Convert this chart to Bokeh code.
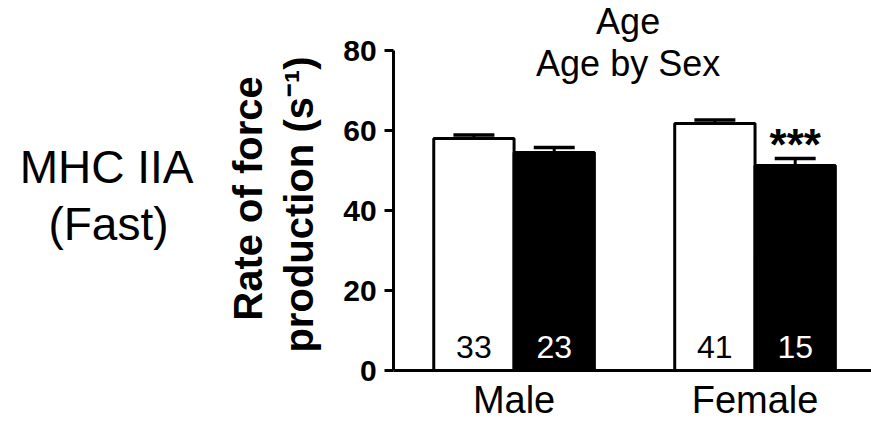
import math
from bokeh.plotting import figure
from bokeh.models import Range1d, FixedTicker
from bokeh.core.properties import value
from bokeh.embed import file_html
from bokeh.resources import INLINE

# ---- data ----
sexes = ["Male", "Female"]
ages = ["Young", "Old"]
groups = ["Male", "Male", "Female", "Female"]
age_group = ["Young", "Old", "Young", "Old"]
mean_rate = [58.0, 54.5, 61.75, 51.25]
sem_rate = [0.9, 1.25, 0.9, 1.75]
n_fibres = [33, 23, 41, 15]
significance = ["", "", "", "***"]
y_ticks = [0, 20, 40, 60, 80]
effects = ["Age", "Age by Sex"]
panel_label = ["MHC IIA", "(Fast)"]
y_label = ["Rate of force", "production (s\u207b\u00b9)"]

FONT = "Liberation Sans"
BSHIFT = 3.0  # compensation for text baseline placement (data units)

# positions derived from category indices
xs = [sexes.index(g) * 3 + ages.index(a) + 1 for g, a in zip(groups, age_group)]
fills = ["white" if a == "Young" else "black" for a in age_group]
txt_col = ["black" if a == "Young" else "white" for a in age_group]
tops = [m + s for m, s in zip(mean_rate, sem_rate)]
centers = [sexes.index(s) * 3 + 1.5 for s in sexes]

p = figure(width=871, height=423, output_backend="svg", toolbar_location=None,
           x_range=Range1d(-4.894, 5.95), y_range=Range1d(-13.25, 92.5),
           min_border_left=0, min_border_right=0, min_border_top=0,
           min_border_bottom=0)
p.outline_line_color = None
p.xgrid.visible = False
p.ygrid.visible = False
p.background_fill_color = "white"
p.border_fill_color = "white"

# bars
p.vbar(x=xs, top=mean_rate, width=1, bottom=0, fill_color=fills,
       line_color="black", line_width=3)
# error bars (upper only)
p.segment(x0=xs, y0=mean_rate, x1=xs, y1=tops, line_color="black", line_width=3)
p.segment(x0=[x - 0.255 for x in xs], y0=tops, x1=[x + 0.255 for x in xs], y1=tops,
          line_color="black", line_width=3.5)

# n labels
p.text(x=xs, y=[3 + BSHIFT] * len(xs), text=[str(n) for n in n_fibres],
       text_color=txt_col, text_align="center", text_baseline="alphabetic",
       text_font=value(FONT), text_font_size="32px")
# significance
p.text(x=xs, y=[t + BSHIFT + 0.5 for t in tops], text=significance, text_color="black",
       text_align="center", text_baseline="alphabetic", text_font=value(FONT),
       text_font_size="44px", text_font_style="bold")
# effect labels
p.text(x=[2.92, 2.92], y=[84.25 + BSHIFT, 73.75 + BSHIFT], text=effects,
       text_align="center", text_baseline="alphabetic", text_font=value(FONT),
       text_font_size="36px", text_color="black")
# panel label
p.text(x=[-3.574, -3.55], y=[51.0, 36.6], text=panel_label,
       text_align="center", text_baseline="alphabetic", text_font=value(FONT),
       text_font_size="46px", text_color="black")
# y-axis title (two rotated lines)
p.text(x=[-1.81, -1.18], y=[43.0, 41.5], text=y_label, angle=math.pi / 2,
       text_align="center", text_baseline="alphabetic", text_font=value(FONT),
       text_font_size="40px", text_font_style="bold", text_color="black")

# axes
ya = p.yaxis[0]
ya.fixed_location = 0
ya.ticker = FixedTicker(ticks=y_ticks)
ya.bounds = (0, 80)
ya.axis_line_width = 3
ya.major_tick_line_width = 3
ya.major_tick_out = 9
ya.major_tick_in = 0
ya.minor_tick_line_color = None
ya.major_label_standoff = 8
ya.major_label_text_font = FONT
ya.major_label_text_font_size = "30px"
ya.major_label_text_font_style = "bold"
ya.major_label_text_color = "black"

xa = p.xaxis[0]
xa.fixed_location = 0
xa.ticker = FixedTicker(ticks=centers)
xa.bounds = (0, 5.95)
xa.major_label_overrides = {c: s for c, s in zip(centers, sexes)}
xa.axis_line_width = 3
xa.major_tick_line_color = None
xa.minor_tick_line_color = None
xa.major_tick_out = 0
xa.major_tick_in = 0
xa.major_label_standoff = 8
xa.major_label_text_font = FONT
xa.major_label_text_font_size = "38px"
xa.major_label_text_color = "black"

open("out.html", "w").write(file_html(p, INLINE))
